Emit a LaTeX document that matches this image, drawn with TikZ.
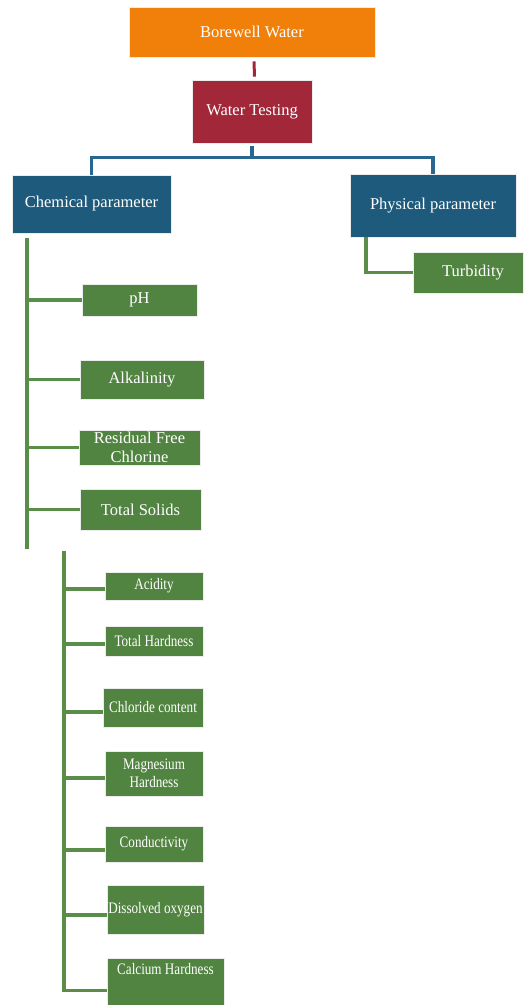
\documentclass[tikz,border=0pt]{standalone}
\usepackage{fontspec}
\setmainfont{Liberation Serif}
\newfontfamily\condfont[FakeStretch=0.82]{Liberation Serif}
\definecolor{cOrange}{HTML}{F08009}
\definecolor{cRed}{HTML}{A22839}
\definecolor{cBlue}{HTML}{1E5A7C}
\definecolor{cBlueLine}{HTML}{2A6790}
\definecolor{cGreen}{HTML}{528441}
\definecolor{cGreenLine}{HTML}{5A8E48}
\begin{document}
\begin{tikzpicture}[x=1pt,y=-1pt,
  box/.style={rectangle, draw=white!85!gray, line width=0.6pt, text=white, align=center,
    inner sep=1pt, font=\fontsize{16.5}{18.5}\selectfont},
  gbox/.style={box, fill=cGreen},
  cbox/.style={gbox, font=\condfont\fontsize{16}{18}\selectfont},
  gline/.style={draw=cGreenLine, line width=3.2pt},
  bline/.style={draw=cBlueLine, line width=3.2pt}]
\useasboundingbox (0,0) rectangle (523,1005);

\node[box, fill=cOrange, minimum width=246pt, minimum height=50pt] (bw) at (252,32) {Borewell Water};
\node[box, fill=cRed, minimum width=120pt, minimum height=63pt] (wt) at (252,111.5) {Water Testing};
\node[box, fill=cBlue, minimum width=159pt, minimum height=58pt] (chem) at (91.5,204) {Chemical parameter};
\node[box, fill=cBlue, minimum width=166pt, minimum height=63pt] (phys) at (433,205.5) {Physical parameter};
\node[gbox, minimum width=110pt, minimum height=41pt, text width=100pt] (turb) at (468,272.5) {\hspace*{10pt}Turbidity};

\node[gbox, minimum width=115pt, minimum height=32pt] (ph) at (139.5,300) {pH};
\node[gbox, minimum width=124pt, minimum height=39pt] (alk) at (142,379.5) {Alkalinity};
\node[gbox, minimum width=121pt, minimum height=35pt, font=\fontsize{16.5}{18.5}\selectfont] (rfc) at (139.5,447.5) {Residual Free\\Chlorine};
\node[gbox, minimum width=121pt, minimum height=41pt] (ts) at (140.5,509.5) {Total Solids};

\node[cbox, minimum width=98pt, minimum height=28pt] (acid) at (154,586) {Acidity};
\node[cbox, minimum width=98pt, minimum height=30pt] (th) at (154,641) {Total Hardness};
\node[cbox, minimum width=100pt, minimum height=39pt] (cc) at (153,707.5) {Chloride content};
\node[cbox, minimum width=98pt, minimum height=45pt, font=\condfont\fontsize{16}{18}\selectfont] (mh) at (154,773.5) {Magnesium\\Hardness};
\node[cbox, minimum width=98pt, minimum height=36pt] (cond) at (154,844) {Conductivity};
\node[cbox, minimum width=97pt, minimum height=49pt] (dox) at (155.5,909.5) {Dissolved oxygen};
\node[cbox, minimum width=117pt, anchor=north, text height=14.5pt, text depth=28.5pt, inner ysep=2pt] (ch) at (165.5,958) {Calcium Hardness};

% top connectors
\draw[draw=cRed, line width=3pt] ([xshift=2pt,yshift=-4pt]bw.south) -- ([xshift=2.5pt,yshift=3pt]wt.north);
\draw[bline] ([yshift=-3pt]wt.south) -- (wt.south |- 0,158);
\draw[bline] (chem.north) -- ++(0,-17) -| (phys.north);
\draw[gline] (phys.south -| 366,0) |- (turb.west);

% chemical trunk 1
\coordinate (t1top) at (27,238);
\coordinate (t1bot) at (27,549);
\draw[gline] (t1top) -- (t1bot);
\foreach \n in {ph,alk,rfc,ts}{
  \draw[gline] (t1top |- \n.west) -- (\n.west);
}

% chemical trunk 2
\coordinate (t2top) at (64,551);
\coordinate (t2bot) at (64,992);
\draw[gline] (t2top) -- (t2bot);
\draw[gline] (t2top |- 0,589) -- (acid.west |- 0,589);
\draw[gline] (t2top |- 0,644) -- (th.west |- 0,644);
\draw[gline] (t2top |- 0,712) -- (cc.west |- 0,712);
\draw[gline] (t2top |- 0,778) -- (mh.west |- 0,778);
\draw[gline] (t2top |- 0,850) -- (cond.west |- 0,850);
\draw[gline] (t2top |- 0,915) -- (dox.west |- 0,915);
\draw[gline] (t2top |- 0,990.5) -- (ch.west |- 0,990.5);
\end{tikzpicture}
\end{document}
